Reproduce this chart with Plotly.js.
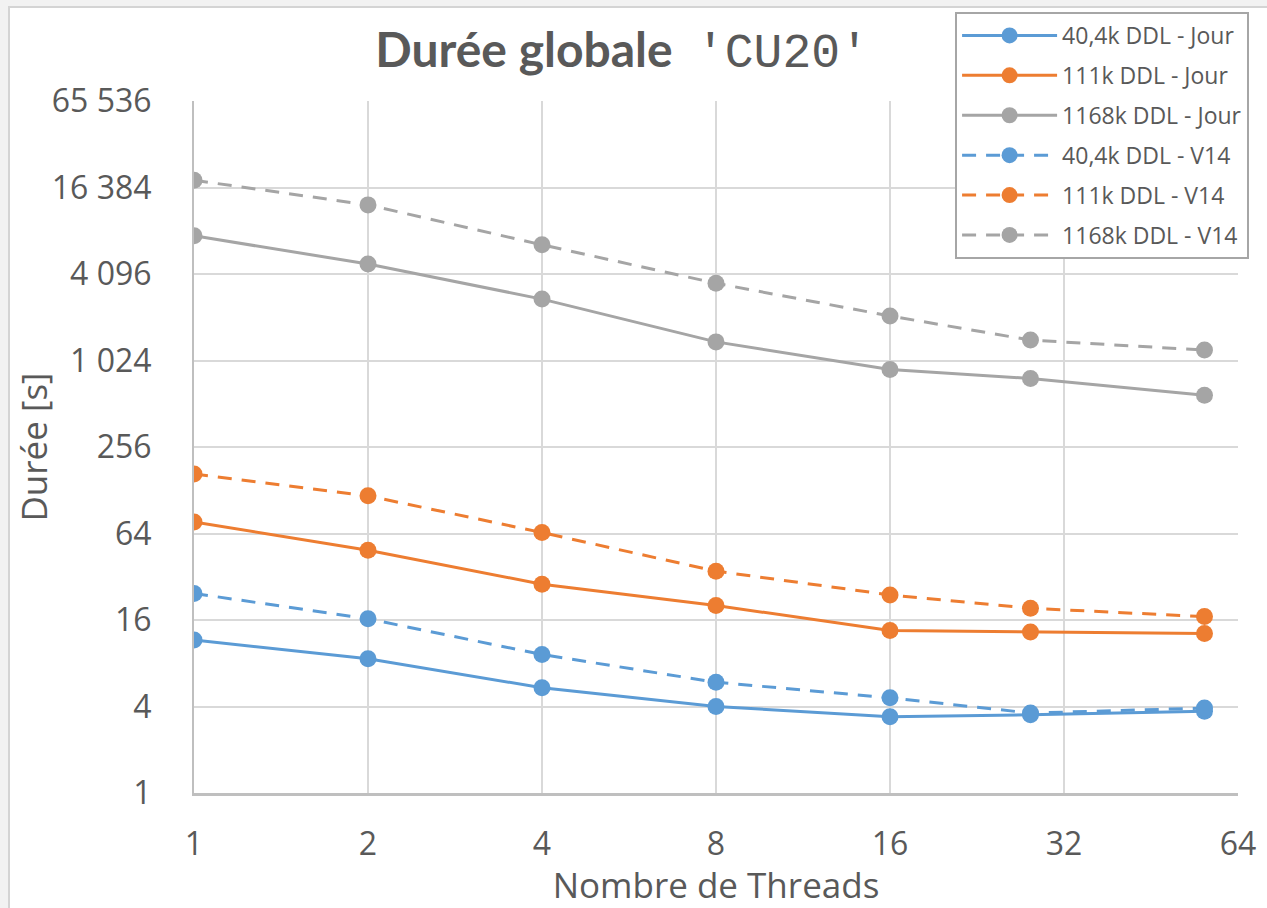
<!DOCTYPE html>
<html>
<head>
<meta charset="utf-8">
<script src="https://cdn.plot.ly/plotly-3.0.1.min.js"></script>
<style>
  html, body { margin: 0; padding: 0; background: #f2f2f2; overflow: hidden; }
  #chart { position: absolute; left: 8px; top: 6px; width: 1257px; height: 900px;
           border-left: 2px solid #d4d4d4; border-top: 2px solid #d4d4d4; background: #fff; }
</style>
</head>
<body>
<div id="chart"></div>
<script>
// Data
const threads = [1, 2, 4, 8, 16, 28, 56];
const jour40k   = [11.6, 8.6, 5.4, 4.0, 3.4, 3.5, 3.7];
const jour111k  = [77, 49, 28.4, 20.2, 13.5, 13.2, 12.9];
const jour1168k = [7550, 4810, 2740, 1380, 886, 767, 586];
const v1440k    = [24.5, 16.3, 9.2, 5.9, 4.6, 3.6, 3.9];
const v14111k   = [166, 117, 65, 35, 23.9, 19.3, 16.9];
const v141168k  = [18400, 12400, 6540, 3530, 2090, 1420, 1210];

const seriesNames = ['40,4k DDL - Jour', '111k DDL - Jour', '1168k DDL - Jour',
                     '40,4k DDL - V14', '111k DDL - V14', '1168k DDL - V14'];
const seriesValues = [jour40k, jour111k, jour1168k, v1440k, v14111k, v141168k];

const xTickVals = [1, 2, 4, 8, 16, 32, 64];
const xTickText = ['1', '2', '4', '8', '16', '32', '64'];
const yTickVals = [1, 4, 16, 64, 256, 1024, 4096, 16384, 65536];
const yTickText = ['1', '4', '16', '64', '256', '1 024', '4 096', '16 384', '65 536'];

const colors = ['#5b9bd5', '#ed7d31', '#a5a5a5', '#5b9bd5', '#ed7d31', '#a5a5a5'];
const dashes = ['solid', 'solid', 'solid', '14px,10px', '14px,10px', '14px,10px'];

const traces = seriesNames.map((name, i) => ({
  type: 'scatter',
  mode: 'lines+markers',
  name: name,
  legendgroup: 'g' + i,
  x: threads,
  y: seriesValues[i],
  line: { color: colors[i], width: 3, dash: dashes[i] },
  marker: { color: colors[i], size: 17 }
}));

const tickFont = { family: 'Open Sans, sans-serif', size: 32, color: '#595959' };

const layout = {
  width: 1257,
  height: 900,
  margin: { l: 184, r: 29, t: 93, b: 115, autoexpand: false },
  paper_bgcolor: '#ffffff',
  plot_bgcolor: '#ffffff',
  showlegend: true,
  title: {
    text: 'Durée globale&nbsp; <span style="font-family:\'Liberation Mono\', monospace;font-weight:normal">\'CU20\'</span>',
    font: { family: 'Lato, Open Sans, sans-serif', size: 48, color: '#595959', weight: 'bold' },
    xref: 'paper', x: 0.41, xanchor: 'center',
    yref: 'container', y: 0.953, yanchor: 'middle'
  },
  xaxis: {
    type: 'log',
    range: [0, Math.log10(64)],
    tickvals: xTickVals,
    ticktext: xTickText,
    tickfont: tickFont,
    ticks: 'outside', ticklen: 21, tickcolor: 'rgba(0,0,0,0)',
    showgrid: true, gridcolor: '#d9d9d9', gridwidth: 2,
    showline: true, linecolor: '#bfbfbf', linewidth: 3,
    zeroline: false,
    automargin: false,
    title: { text: 'Nombre de Threads', font: { family: 'Open Sans, sans-serif', size: 35, color: '#595959' }, standoff: 4 }
  },
  yaxis: {
    type: 'log',
    range: [0, Math.log10(65536)],
    tickvals: yTickVals,
    ticktext: yTickText,
    tickfont: tickFont,
    ticks: 'outside', ticklen: 34, tickcolor: 'rgba(0,0,0,0)',
    showgrid: true, gridcolor: '#d9d9d9', gridwidth: 2,
    showline: true, linecolor: '#bfbfbf', linewidth: 2,
    zeroline: false,
    automargin: false,
    title: { text: 'Durée [s]', font: { family: 'Open Sans, sans-serif', size: 35, color: '#595959' }, standoff: 2 }
  },
  legend: {
    x: 0.729, xanchor: 'left',
    y: 1.1286, yanchor: 'top',
    bgcolor: '#ffffff',
    bordercolor: '#a6a6a6', borderwidth: 2,
    font: { family: 'Open Sans, sans-serif', size: 23, color: '#595959' },
    traceorder: 'grouped',
    tracegroupgap: 7,
    itemwidth: 95
  }
};

Plotly.newPlot('chart', traces, layout, { displayModeBar: false, staticPlot: true });
</script>
</body>
</html>
